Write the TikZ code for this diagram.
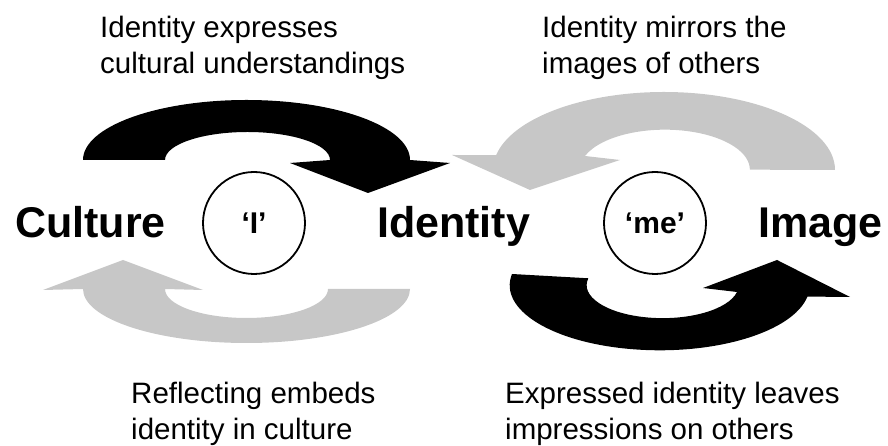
\documentclass[tikz,border=0pt]{standalone}
\usepackage{fontspec}
\setmainfont{Liberation Sans}
\usetikzlibrary{arrows}

\begin{document}
\begin{tikzpicture}[x=1pt,y=1pt, word/.style={font=\fontsize{43}{50}\selectfont\bfseries,inner sep=0,anchor=base west},
self/.style={circle,draw,line width=1.8pt,minimum size=102pt,inner sep=0,font=\fontsize{30}{36}\selectfont\bfseries},
note/.style={font=\fontsize{29.5}{36}\selectfont,align=left,inner sep=0,anchor=north west},
dark arrow/.style={fill=black},
light arrow/.style={fill=black!22}]
\useasboundingbox (0,0) rectangle (888,446);
% The three words
\node[word] (culture) at (15,208) {Culture};
\node[word] (identity) at (377,208) {Identity};
\node[word] (image) at (758,208) {Image};
% The two selves
\node[self] (i) at (254,223) {‘I’};
\node[self] (me) at (655,223) {‘me’};

% Culture to identity
\fill[dark arrow] (83,286) arc[start angle=180,end angle=0,x radius=163.5,y radius=60]
  -- (450,283) -- (368,253) -- (290,283) -- (330,286)
  arc[start angle=0,end angle=180,x radius=82.5,y radius=28] -- cycle;
% Image to identity
\fill[light arrow] (835,276) arc[start angle=0,end angle=169,x radius=171,y radius=78]
  -- (452,291) -- (530,256) -- (620,286) -- (585,290)
  arc[start angle=160,end angle=0,x radius=85,y radius=40] -- cycle;
% Identity to culture
\fill[light arrow] (83,157) arc[start angle=180,end angle=360,x radius=163.5,y radius=54]
  -- (328,157) arc[start angle=360,end angle=180,x radius=81.5,y radius=29]
  -- (203,156) -- (123,186) -- (43,156) -- cycle;
% Identity to image
\fill[dark arrow] (512,172) arc[start angle=170,end angle=350,x radius=150,y radius=65]
  -- (850,149) -- (777,186) -- (703,158) -- (737,154)
  arc[start angle=348,end angle=168,x radius=76,y radius=33] -- cycle;

% The notes
\node[note] (expresses) at (100,430.5) {Identity expresses\\cultural understandings};
\node[note] (mirrors) at (542,430.5) {Identity mirrors the\\images of others};
\node[note] (reflecting) at (131,64.5) {Reflecting embeds\\identity in culture};
\node[note] (impressions) at (505,64.5) {Expressed identity leaves\\impressions on others};
\end{tikzpicture}
\end{document}
